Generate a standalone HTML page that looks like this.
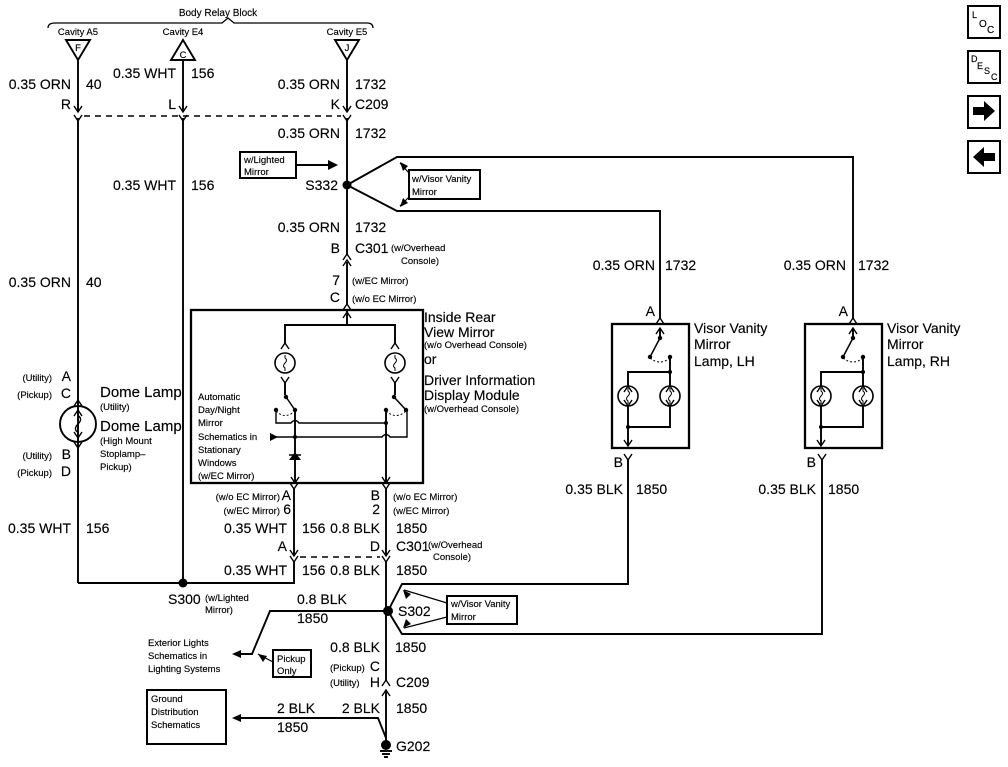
<!DOCTYPE html>
<html><head><meta charset="utf-8"><style>
html,body{margin:0;padding:0;background:#fff;}
svg{display:block;}
text{font-family:"Liberation Sans",Arial,sans-serif;fill:#000;stroke:#000;stroke-width:0.15px;}
.b{font-size:14px;}
.s{font-size:9.5px;}
.m{font-size:10px;}
.l{font-size:15px;}
</style></head><body>
<svg width="1008" height="767" viewBox="0 0 1008 767" xmlns="http://www.w3.org/2000/svg">
<defs>
<path id="vu" d="M-4,-6 L0,0 L4,-6" fill="none" stroke="#000" stroke-width="1.4"/>
<path id="vd" d="M-4,6 L0,0 L4,6" fill="none" stroke="#000" stroke-width="1.4"/>
<g id="lamp"><circle r="10" fill="none" stroke="#000" stroke-width="1.6"/><path d="M0,-8 L0,-5 Q3,-3 0,0 Q-3,3 0,5 L0,8" fill="none" stroke="#000" stroke-width="1"/></g>
</defs>
<g stroke="#000" stroke-width="1.9" fill="none">
<path d="M48,28 Q48,23 55,23 L222,23 L228,18 L234,23 L367,23 Q373,23 373,28" stroke-width="1.3"/>
<polygon points="66,40 90,40 78,60"/>
<polygon points="171,60 195,60 183,40"/>
<polygon points="335,40 359,40 347,60"/>
<line x1="78" y1="60" x2="78" y2="112"/><line x1="183" y1="60" x2="183" y2="112"/><line x1="347" y1="60" x2="347" y2="112"/>
<line x1="84" y1="116" x2="341" y2="116" stroke-dasharray="6,5" stroke-width="1.4"/>
<line x1="78" y1="118" x2="78" y2="583"/><line x1="183" y1="118" x2="183" y2="583"/>
<line x1="347" y1="118" x2="347" y2="254"/>
<line x1="347" y1="262" x2="347" y2="304"/>
<line x1="347" y1="310" x2="347" y2="325"/>
<line x1="296" y1="165" x2="336" y2="165"/>
<path d="M347,185 L397,157 L853,157 L853,318"/>
<path d="M347,185 L397,211 L660,211 L660,318"/>
<line x1="409" y1="173" x2="400" y2="163" stroke-width="1.2"/>
<line x1="409" y1="197" x2="400" y2="206" stroke-width="1.2"/>
<rect x="240" y="152" width="56" height="26" stroke-width="2"/>
<rect x="409" y="170" width="71" height="29" stroke-width="2"/>
<circle cx="78" cy="424" r="18" stroke-width="1.9"/>
<rect x="191" y="310" width="232" height="173" stroke-width="2.3"/>
<path d="M285,343 L285,325 L395,325 L395,343"/>
<line x1="285" y1="383" x2="285" y2="395"/><line x1="395" y1="383" x2="395" y2="395"/>
<line x1="286" y1="397" x2="295" y2="410" stroke-width="1.5"/>
<line x1="394" y1="397" x2="406" y2="410" stroke-width="1.5"/>
<path d="M276,411 Q285,420 295,411" stroke-dasharray="2,2" stroke-width="1"/>
<path d="M386,411 Q396,420 406,411" stroke-dasharray="2,2" stroke-width="1"/>
<path d="M276,410 L276,423 L291,423 Q295,418 299,423 L386,423" stroke-width="1.4"/>
<path d="M270,437 L382,437 Q386,432 390,437 L407,437 L407,410" stroke-width="1.4"/>
<line x1="295" y1="410" x2="295" y2="483"/>
<line x1="386" y1="410" x2="386" y2="483"/>
<line x1="289" y1="455" x2="301" y2="455" stroke-width="1.5"/>
<line x1="294" y1="489" x2="294" y2="556"/><line x1="386" y1="489" x2="386" y2="556"/>
<line x1="300" y1="557" x2="380" y2="557" stroke-dasharray="6,5" stroke-width="1.4"/>
<path d="M294,562 L294,583 L78,583"/>
<line x1="386" y1="562" x2="386" y2="680"/>
<line x1="386" y1="690" x2="386" y2="745"/>
<path d="M388,611 L402,584 L628,584 L628,460"/>
<path d="M388,611 L402,634 L822,634 L822,460"/>
<rect x="447" y="596" width="70" height="28" stroke-width="2"/>
<line x1="447" y1="603" x2="404" y2="590" stroke-width="1.2"/>
<line x1="447" y1="617" x2="404" y2="628" stroke-width="1.2"/>
<path d="M386,611 L270,611 L252,654 L240,654"/>
<rect x="273" y="650" width="38" height="27" stroke-width="2"/>
<line x1="273" y1="662" x2="258" y2="654" stroke-width="1.2"/>
<path d="M240,718 L378,718 L386,738"/>
<rect x="147" y="690" width="79" height="54" stroke-width="2"/>
<line x1="380" y1="751" x2="392" y2="751"/><line x1="382" y1="754" x2="390" y2="754"/><line x1="384" y1="757" x2="388" y2="757"/>
<rect x="612" y="324" width="77" height="124" stroke-width="2.3"/>
<line x1="660" y1="328" x2="660" y2="338"/>
<line x1="660" y1="338" x2="650" y2="357" stroke-width="1.5"/>
<path d="M650,358 Q660,366 670,358" stroke-dasharray="2,2" stroke-width="1"/>
<path d="M670,357 L670,386 M628,386 L628,372 L670,372"/>
<path d="M628,406 L628,446 M670,406 L670,427 L628,427"/>
<rect x="805" y="324" width="77" height="124" stroke-width="2.3"/>
<line x1="853" y1="328" x2="853" y2="338"/>
<line x1="853" y1="338" x2="843" y2="357" stroke-width="1.5"/>
<path d="M843,358 Q853,366 863,358" stroke-dasharray="2,2" stroke-width="1"/>
<path d="M863,357 L863,386 M821,386 L821,372 L863,372"/>
<path d="M821,406 L821,446 M863,406 L863,427 L821,427"/>
<rect x="968" y="6" width="32" height="32" stroke-width="2"/>
<rect x="968" y="51" width="32" height="32" stroke-width="2"/>
<rect x="968" y="96" width="32" height="32" stroke-width="2"/>
<rect x="968" y="141" width="32" height="32" stroke-width="2"/>
</g>
<g fill="#000">
<circle cx="347" cy="185" r="4.5"/><circle cx="183" cy="583" r="4.5"/><circle cx="388" cy="611" r="5"/><circle cx="386" cy="745" r="5"/>
<polygon points="338,165 328,160 328,170"/>
<polygon points="400,162 403,171 408,166"/><polygon points="400,207 408,203 403,198"/>
<polygon points="403,590 406,599 411,594"/><polygon points="403,628 411,624 406,619"/>
<polygon points="232,654 241,650 241,658"/><polygon points="232,718 241,714 241,722"/>
<polygon points="258,654 263,662 267,656"/>
<polygon points="278,437 270,433 270,441"/>
<polygon points="289,460 301,460 295,452"/>
<circle cx="286" cy="397" r="2.2"/><circle cx="295" cy="410" r="2.2"/><circle cx="276" cy="410" r="2.2"/>
<circle cx="394" cy="397" r="2.2"/><circle cx="406" cy="410" r="2.2"/><circle cx="386" cy="410" r="2.2"/>
<circle cx="295" cy="437" r="2"/><circle cx="386" cy="423" r="2"/>
<circle cx="660" cy="338" r="2.2"/><circle cx="650" cy="357" r="2.2"/><circle cx="670" cy="357" r="2.2"/><circle cx="670" cy="372" r="2"/><circle cx="628" cy="427" r="2"/>
<circle cx="853" cy="338" r="2.2"/><circle cx="843" cy="357" r="2.2"/><circle cx="863" cy="357" r="2.2"/><circle cx="863" cy="372" r="2"/><circle cx="821" cy="427" r="2"/>
<polygon points="973,107 984,107 984,101 995,111 984,121 984,115 973,115"/>
<polygon points="995,153 984,153 984,147 973,157 984,167 984,161 995,161"/>
</g>
<g>
<use href="#vu" x="78" y="112"/><use href="#vu" x="183" y="112"/><use href="#vu" x="347" y="112"/>
<use href="#vu" x="78" y="121"/><use href="#vu" x="183" y="121"/><use href="#vu" x="347" y="121"/>
<use href="#vd" x="347" y="254"/><use href="#vd" x="347" y="260"/><use href="#vd" x="347" y="304"/>
<use href="#vd" x="347" y="312"/>
<use href="#vd" x="78" y="400"/><use href="#vd" x="78" y="410"/><use href="#vu" x="78" y="438"/><use href="#vu" x="78" y="448"/>
<use href="#vd" x="285" y="343"/><use href="#vd" x="395" y="343"/>
<use href="#vu" x="285" y="383"/><use href="#vu" x="395" y="383"/>
<use href="#vu" x="295" y="483"/><use href="#vu" x="386" y="483"/>
<use href="#vu" x="294" y="489"/><use href="#vu" x="386" y="489"/>
<use href="#vu" x="294" y="556"/><use href="#vu" x="386" y="556"/>
<use href="#vu" x="294" y="562"/><use href="#vu" x="386" y="562"/>
<use href="#vd" x="386" y="680"/><use href="#vd" x="386" y="690"/>
<use href="#vd" x="660" y="318"/><use href="#vd" x="660" y="328"/><use href="#vd" x="853" y="318"/><use href="#vd" x="853" y="328"/>
<use href="#vd" x="628" y="386"/><use href="#vd" x="670" y="386"/><use href="#vu" x="628" y="406"/><use href="#vu" x="670" y="406"/>
<use href="#vd" x="821" y="386"/><use href="#vd" x="863" y="386"/><use href="#vu" x="821" y="406"/><use href="#vu" x="863" y="406"/>
<use href="#vu" x="628" y="446"/><use href="#vu" x="628" y="460"/><use href="#vu" x="821" y="446"/><use href="#vu" x="822" y="460"/>
<use href="#lamp" x="285" y="363"/><use href="#lamp" x="395" y="363"/>
<use href="#lamp" x="628" y="396"/><use href="#lamp" x="670" y="396"/><use href="#lamp" x="821" y="396"/><use href="#lamp" x="863" y="396"/>
<g transform="translate(78,424) scale(1.7)"><path d="M0,-8 L0,-5 Q3,-3 0,0 Q-3,3 0,5 L0,8" fill="none" stroke="#000" stroke-width="0.8"/></g>
</g>
<text class="m" x="218" y="16" text-anchor="middle">Body Relay Block</text>
<text class="s" x="78" y="35" text-anchor="middle">Cavity A5</text>
<text class="s" x="183" y="35" text-anchor="middle">Cavity E4</text>
<text class="s" x="347" y="35" text-anchor="middle">Cavity E5</text>
<text class="s" x="78" y="51" text-anchor="middle">F</text>
<text class="s" x="183" y="58" text-anchor="middle">C</text>
<text class="s" x="347" y="51" text-anchor="middle">J</text>
<g class="b">
<text x="71" y="89" text-anchor="end">0.35 ORN</text><text x="86" y="89">40</text>
<text x="176" y="78" text-anchor="end">0.35 WHT</text><text x="191" y="78">156</text>
<text x="340" y="89" text-anchor="end">0.35 ORN</text><text x="355" y="89">1732</text>
<text x="71" y="109" text-anchor="end">R</text><text x="176" y="109" text-anchor="end">L</text>
<text x="340" y="109" text-anchor="end">K</text><text x="355" y="109">C209</text>
<text x="340" y="138" text-anchor="end">0.35 ORN</text><text x="355" y="138">1732</text>
<text x="338" y="190" text-anchor="end">S332</text>
<text x="176" y="190" text-anchor="end">0.35 WHT</text><text x="191" y="190">156</text>
<text x="340" y="232" text-anchor="end">0.35 ORN</text><text x="355" y="232">1732</text>
<text x="340" y="253" text-anchor="end">B</text><text x="355" y="253">C301</text>
<text x="340" y="285" text-anchor="end">7</text>
<text x="340" y="302" text-anchor="end">C</text>
<text x="71" y="287" text-anchor="end">0.35 ORN</text><text x="86" y="287">40</text>
<text x="71" y="381" text-anchor="end">A</text><text x="71" y="398" text-anchor="end">C</text>
<text x="71" y="459" text-anchor="end">B</text><text x="71" y="476" text-anchor="end">D</text>
<text x="71" y="533" text-anchor="end">0.35 WHT</text><text x="86" y="533">156</text>
<text x="424" y="322">Inside Rear</text><text x="424" y="337">View Mirror</text>
<text x="424" y="364">or</text>
<text x="424" y="385">Driver Information</text><text x="424" y="400">Display Module</text>
<text x="291" y="500" text-anchor="end">A</text><text x="291" y="514" text-anchor="end">6</text>
<text x="380" y="500" text-anchor="end">B</text><text x="380" y="514" text-anchor="end">2</text>
<text x="287" y="533" text-anchor="end">0.35 WHT</text><text x="302" y="533">156</text>
<text x="380" y="533" text-anchor="end">0.8 BLK</text><text x="396" y="533">1850</text>
<text x="287" y="551" text-anchor="end">A</text><text x="380" y="551" text-anchor="end">D</text><text x="396" y="551">C301</text>
<text x="287" y="575" text-anchor="end">0.35 WHT</text><text x="302" y="575">156</text>
<text x="380" y="575" text-anchor="end">0.8 BLK</text><text x="396" y="575">1850</text>
<text x="168" y="604">S300</text>
<text x="297" y="604">0.8 BLK</text><text x="297" y="623">1850</text>
<text x="398" y="616">S302</text>
<text x="380" y="652" text-anchor="end">0.8 BLK</text><text x="395" y="652">1850</text>
<text x="380" y="671" text-anchor="end">C</text><text x="380" y="687" text-anchor="end">H</text><text x="396" y="687">C209</text>
<text x="380" y="713" text-anchor="end">2 BLK</text><text x="396" y="713">1850</text>
<text x="277" y="713">2 BLK</text><text x="277" y="732">1850</text>
<text x="396" y="751">G202</text>
<text x="655" y="270" text-anchor="end">0.35 ORN</text><text x="665" y="270">1732</text>
<text x="846" y="270" text-anchor="end">0.35 ORN</text><text x="858" y="270">1732</text>
<text x="655" y="316" text-anchor="end">A</text><text x="848" y="316" text-anchor="end">A</text>
<text x="694" y="333">Visor Vanity</text><text x="694" y="349">Mirror</text><text x="694" y="366">Lamp, LH</text>
<text x="887" y="333">Visor Vanity</text><text x="887" y="349">Mirror</text><text x="887" y="366">Lamp, RH</text>
<text x="623" y="467" text-anchor="end">B</text><text x="816" y="467" text-anchor="end">B</text>
<text x="623" y="494" text-anchor="end">0.35 BLK</text><text x="636" y="494">1850</text>
<text x="816" y="494" text-anchor="end">0.35 BLK</text><text x="828" y="494">1850</text>
</g>
<g class="l">
<text x="100" y="397">Dome Lamp</text><text x="100" y="431">Dome Lamp</text>
</g>
<g class="s">
<text x="244" y="163">w/Lighted</text><text x="244" y="175">Mirror</text>
<text x="412" y="182">w/Visor Vanity</text><text x="412" y="195">Mirror</text>
<text x="391" y="251">(w/Overhead</text><text x="401" y="264">Console)</text>
<text x="352" y="284">(w/EC Mirror)</text><text x="352" y="302">(w/o EC Mirror)</text>
<text x="52" y="381" text-anchor="end">(Utility)</text><text x="52" y="398" text-anchor="end">(Pickup)</text>
<text x="52" y="459" text-anchor="end">(Utility)</text><text x="52" y="476" text-anchor="end">(Pickup)</text>
<text x="100" y="410">(Utility)</text>
<text x="100" y="444">(High Mount</text><text x="100" y="457">Stoplamp–</text><text x="100" y="470">Pickup)</text>
<text x="198" y="400">Automatic</text><text x="198" y="413">Day/Night</text><text x="198" y="426">Mirror</text>
<text x="198" y="440">Schematics in</text><text x="198" y="453">Stationary</text><text x="198" y="466">Windows</text><text x="198" y="479">(w/EC Mirror)</text>
<text x="424" y="348">(w/o Overhead Console)</text><text x="424" y="412">(w/Overhead Console)</text>
<text x="280" y="500" text-anchor="end">(w/o EC Mirror)</text><text x="280" y="514" text-anchor="end">(w/EC Mirror)</text>
<text x="393" y="500">(w/o EC Mirror)</text><text x="393" y="514">(w/EC Mirror)</text>
<text x="428" y="548">(w/Overhead</text><text x="433" y="560">Console)</text>
<text x="205" y="601">(w/Lighted</text><text x="205" y="613">Mirror)</text>
<text x="451" y="607">w/Visor Vanity</text><text x="451" y="620">Mirror</text>
<text x="148" y="646">Exterior Lights</text><text x="148" y="659">Schematics in</text><text x="148" y="672">Lighting Systems</text>
<text x="277" y="662">Pickup</text><text x="277" y="674">Only</text>
<text x="330" y="671">(Pickup)</text><text x="330" y="686">(Utility)</text>
<text x="151" y="702">Ground</text><text x="151" y="715">Distribution</text><text x="151" y="728">Schematics</text>
</g>
<text x="972" y="18" font-size="9">L</text><text x="979" y="27" font-size="10">O</text><text x="987" y="33" font-size="10">C</text>
<text x="971" y="62" font-size="9">D</text><text x="977" y="69" font-size="9">E</text><text x="984" y="74" font-size="9">S</text><text x="991" y="80" font-size="9">C</text>
</svg>
</body></html>
